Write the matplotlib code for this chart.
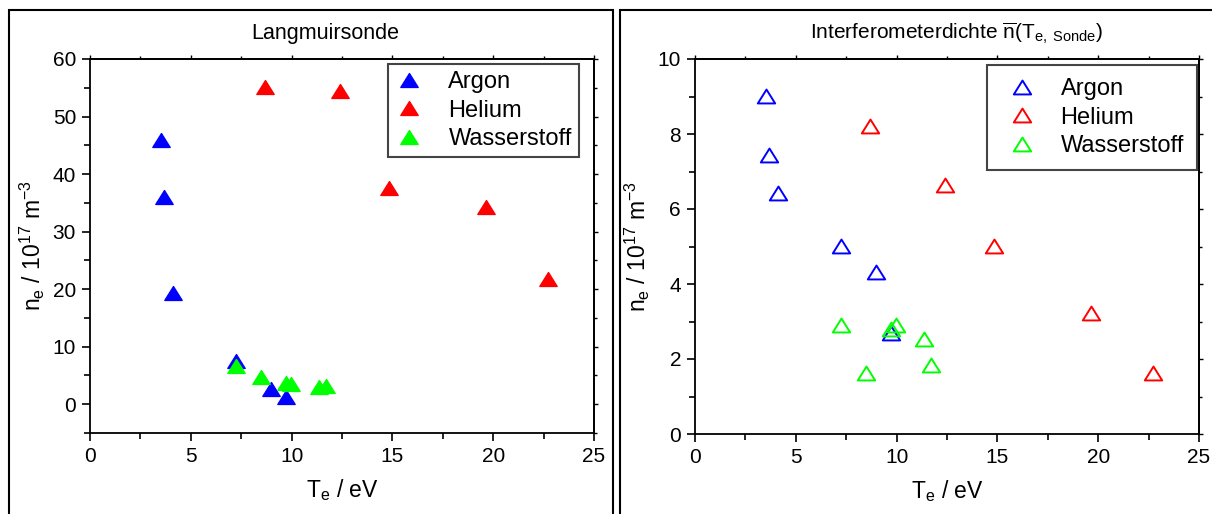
import numpy as np
import matplotlib
matplotlib.use('Agg')
import matplotlib.pyplot as plt
from matplotlib.patches import Rectangle
from matplotlib.path import Path
from matplotlib.ticker import MultipleLocator

plt.rcParams['font.family'] = ['Liberation Sans', 'DejaVu Sans']
plt.rcParams['mathtext.fontset'] = 'custom'
plt.rcParams['mathtext.rm'] = 'Liberation Sans'
plt.rcParams['mathtext.it'] = 'Liberation Sans:italic'

# electron temperature T_e / eV
te_argon = [3.5, 3.65, 4.1, 7.25, 8.98, 9.72]
te_helium = [8.67, 12.39, 14.83, 19.62, 22.7]
te_h2 = [7.26, 8.47, 9.7, 9.98, 11.37, 11.72]

# Langmuir probe density n_e / 1e17 m^-3
ne_probe_argon = [46.0, 36.0, 19.3, 7.5, 2.6, 1.2]
ne_probe_helium = [55.2, 54.5, 37.6, 34.2, 21.8]
ne_probe_h2 = [6.7, 4.7, 3.7, 3.6, 3.0, 3.2]

# interferometer density n_e / 1e17 m^-3
ne_interf_argon = [9.02, 7.44, 6.43, 5.02, 4.33, 2.7]
ne_interf_helium = [8.22, 6.63, 5.02, 3.23, 1.63]
ne_interf_h2 = [2.92, 1.63, 2.8, 2.92, 2.53, 1.83]

labels = ['Argon', 'Helium', 'Wasserstoff']
colors = ['#0000ff', '#ff0000', '#00ff00']

W, H = 1212, 514
fig = plt.figure(figsize=(W / 100, H / 100), dpi=100)

# flatter triangle like Origin's
tri = Path([(-1, -0.8), (1, -0.8), (0, 0.8), (-1, -0.8)],
           [Path.MOVETO, Path.LINETO, Path.LINETO, Path.CLOSEPOLY])


def fx(px):
    return px / W


def fy(py):
    return 1 - py / H


def setup_axes(ax, ylim, ymajor, yminor):
    ax.set_xlim(0, 25)
    ax.set_ylim(*ylim)
    ax.xaxis.set_major_locator(MultipleLocator(5))
    ax.xaxis.set_minor_locator(MultipleLocator(2.5))
    ax.yaxis.set_major_locator(MultipleLocator(ymajor))
    ax.yaxis.set_minor_locator(MultipleLocator(yminor))
    ax.tick_params(which='both', direction='out', width=1.2,
                   labelsize=15, pad=4)
    ax.tick_params(which='major', length=6)
    ax.tick_params(which='minor', length=4)
    # short ticks on the top and right axes, no labels
    top = ax.secondary_xaxis('top')
    top.xaxis.set_major_locator(MultipleLocator(5))
    top.xaxis.set_minor_locator(MultipleLocator(2.5))
    right = ax.secondary_yaxis('right')
    right.yaxis.set_major_locator(MultipleLocator(ymajor))
    right.yaxis.set_minor_locator(MultipleLocator(yminor))
    for sec, side in ((top, 'top'), (right, 'right')):
        sec.tick_params(which='both', direction='out', width=1.0,
                        labeltop=False, labelright=False)
        sec.tick_params(which='major', length=3)
        sec.tick_params(which='minor', length=2)
        sec.spines[side].set_linewidth(1.3)
    for s in ax.spines.values():
        s.set_linewidth(1.3)
    ax.set_xlabel(r'T$_\mathregular{e}$ / eV', fontsize=16.5, labelpad=8)
    ax.set_ylabel(r'n$_\mathregular{e}$ / 10$^\mathregular{17}$ m$^\mathregular{-3}$',
                  fontsize=16.5, labelpad=4)


ax1 = fig.add_axes([fx(90), fy(433), fx(594 - 90), (433 - 59) / H])
ax2 = fig.add_axes([fx(695), fy(434), fx(1199 - 695), (434 - 59) / H])

te = [te_argon, te_helium, te_h2]
probe = [ne_probe_argon, ne_probe_helium, ne_probe_h2]
interf = [ne_interf_argon, ne_interf_helium, ne_interf_h2]

for x, y, c, lab in zip(te, probe, colors, labels):
    ax1.plot(x, y, linestyle='none', marker=tri, markersize=12.5,
             color=c, markeredgecolor=c, label=lab)
for x, y, c, lab in zip(te, interf, colors, labels):
    ax2.plot(x, y, linestyle='none', marker=tri, markersize=12.5,
             markerfacecolor='none', markeredgecolor=c,
             markeredgewidth=1.4, label=lab)

setup_axes(ax1, (-5, 60), 10, 5)
setup_axes(ax2, (0, 10), 2, 1)

leg1 = ax1.legend(loc='upper right', bbox_to_anchor=(0.97, 0.987),
                  borderaxespad=0, fontsize=17, frameon=True, fancybox=False,
                  labelspacing=0.28, handlelength=1.2, handletextpad=1.05,
                  borderpad=0.3)
leg2 = ax2.legend(loc='upper right', bbox_to_anchor=(0.996, 0.984),
                  borderaxespad=0, fontsize=17, frameon=True, fancybox=False,
                  labelspacing=0.28, handlelength=1.8, handletextpad=0.75,
                  borderpad=0.55)
for leg in (leg1, leg2):
    fr = leg.get_frame()
    fr.set_edgecolor('#444444')
    fr.set_linewidth(1.5)
    fr.set_alpha(None)

fig.text(fx(325), fy(33), 'Langmuirsonde', ha='center', va='center',
         fontsize=15.5)
fig.text(fx(957), fy(33),
         r'Interferometerdichte $\overline{\mathregular{n}}$(T$_\mathregular{e,\ Sonde}$)',
         ha='center', va='center', fontsize=15)

# panel frames
fig.add_artist(Rectangle((fx(9), fy(530)), fx(613 - 9), (530 - 10) / H,
                         transform=fig.transFigure, fill=False,
                         edgecolor='black', linewidth=1.5))
fig.add_artist(Rectangle((fx(620), fy(530)), fx(1240 - 620), (530 - 10) / H,
                         transform=fig.transFigure, fill=False,
                         edgecolor='black', linewidth=1.5))

fig.savefig('out.png', dpi=100)
